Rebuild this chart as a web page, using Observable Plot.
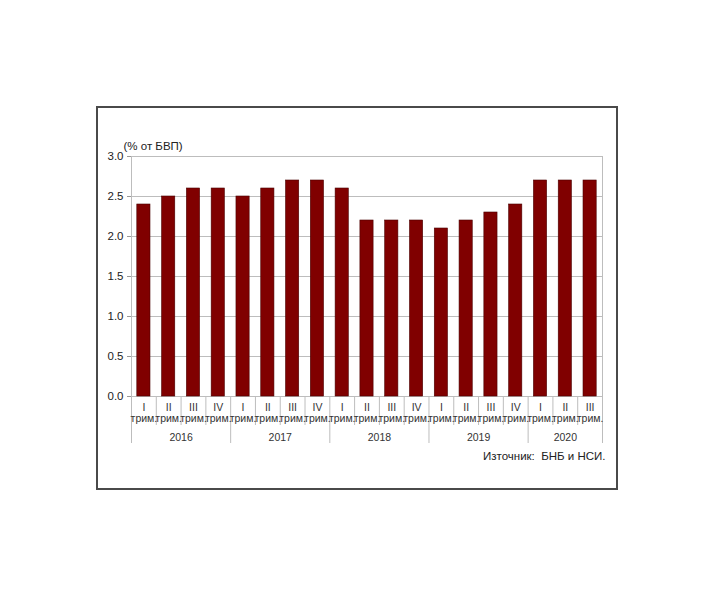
<!DOCTYPE html>
<html>
<head>
<meta charset="utf-8">
<script src="https://cdn.jsdelivr.net/npm/d3@7"></script>
<script src="https://cdn.jsdelivr.net/npm/@observablehq/plot@0.6"></script>
<style>
  html, body { margin: 0; padding: 0; background: #fff; }
  #wrap { position: relative; width: 710px; height: 599px; }
  #frame { position: absolute; left: 96px; top: 106px; width: 518px; height: 380px; border: 2px solid #4a4a4a; box-sizing: content-box; pointer-events: none; }
</style>
</head>
<body>
<div id="wrap"><div id="frame"></div></div>
<script>
const quarters = ["I","II","III","IV","I","II","III","IV","I","II","III","IV","I","II","III","IV","I","II","III"];
const years = [2016,2016,2016,2016,2017,2017,2017,2017,2018,2018,2018,2018,2019,2019,2019,2019,2020,2020,2020];
const values = [2.4,2.5,2.6,2.6,2.5,2.6,2.7,2.7,2.6,2.2,2.2,2.2,2.1,2.2,2.3,2.4,2.7,2.7,2.7];
const quarterSuffix = "трим.";
const yTicks = [0,0.5,1.0,1.5,2.0,2.5,3.0];
const unitLabel = "(% от БВП)";
const sourceLabel = "Източник:  БНБ и НСИ.";

const data = values.map((v, i) => ({i, q: quarters[i], year: years[i], v}));
const yearGroups = d3.groups(data, d => d.year).map(([year, rows]) => ({
  year: String(year),
  start: rows[0].i,
  end: rows[rows.length - 1].i + 1
}));
const n = data.length;
const innerYearBounds = yearGroups.slice(1).map(g => g.start);
const quarterBounds = d3.range(1, n).filter(i => !innerYearBounds.includes(i));

const chart = Plot.plot({
  width: 710,
  height: 599,
  marginLeft: 131,
  marginRight: 108,
  marginTop: 156,
  marginBottom: 203,
  style: {background: "transparent", fontFamily: "'Liberation Sans', Arial, sans-serif", color: "#222"},
  x: {type: "linear", domain: [0, n], axis: null},
  y: {domain: [0, 3], axis: null},
  marks: [
    Plot.gridY(yTicks, {stroke: "#bdbdbd", strokeOpacity: 1}),
    Plot.ruleX([0, n], {stroke: "#bdbdbd", insetBottom: -47}),
    Plot.ruleX(innerYearBounds, {stroke: "#bdbdbd", insetTop: 240, insetBottom: -47}),
    Plot.ruleX(quarterBounds, {stroke: "#bdbdbd", insetTop: 240, insetBottom: -29}),
    Plot.rectY(data, {x1: "i", x2: d => d.i + 1, y: "v", fill: "#800000", stroke: "#4a0000", strokeWidth: 0.6, insetLeft: 5.8, insetRight: 5.8}),
    Plot.axisY(yTicks, {tickFormat: d3.format(".1f"), tickSize: 4, tickPadding: 4, fontSize: 11.5, stroke: "#999", label: null}),
    Plot.text(data, {x: d => d.i + 0.5, text: "q", frameAnchor: "bottom", dy: 14, fontSize: 10.5, fill: "#333"}),
    Plot.text(data, {x: d => d.i + 0.5, text: () => quarterSuffix, frameAnchor: "bottom", dy: 25, fontSize: 10.5, fill: "#333"}),
    Plot.text(yearGroups, {x: d => (d.start + d.end) / 2, text: "year", frameAnchor: "bottom", dy: 44, fontSize: 10.5, fill: "#333"}),
    Plot.text([unitLabel], {text: d => d, frameAnchor: "top-left", textAnchor: "start", dx: -8, dy: -15, fontSize: 11.5, fill: "#222"}),
    Plot.text([sourceLabel], {text: d => d, frameAnchor: "bottom-right", textAnchor: "end", dx: 3, dy: 63, fontSize: 11.5, fill: "#222"})
  ]
});
chart.style.position = "absolute";
chart.style.left = "0";
chart.style.top = "0";
document.getElementById("wrap").appendChild(chart);
</script>
</body>
</html>
